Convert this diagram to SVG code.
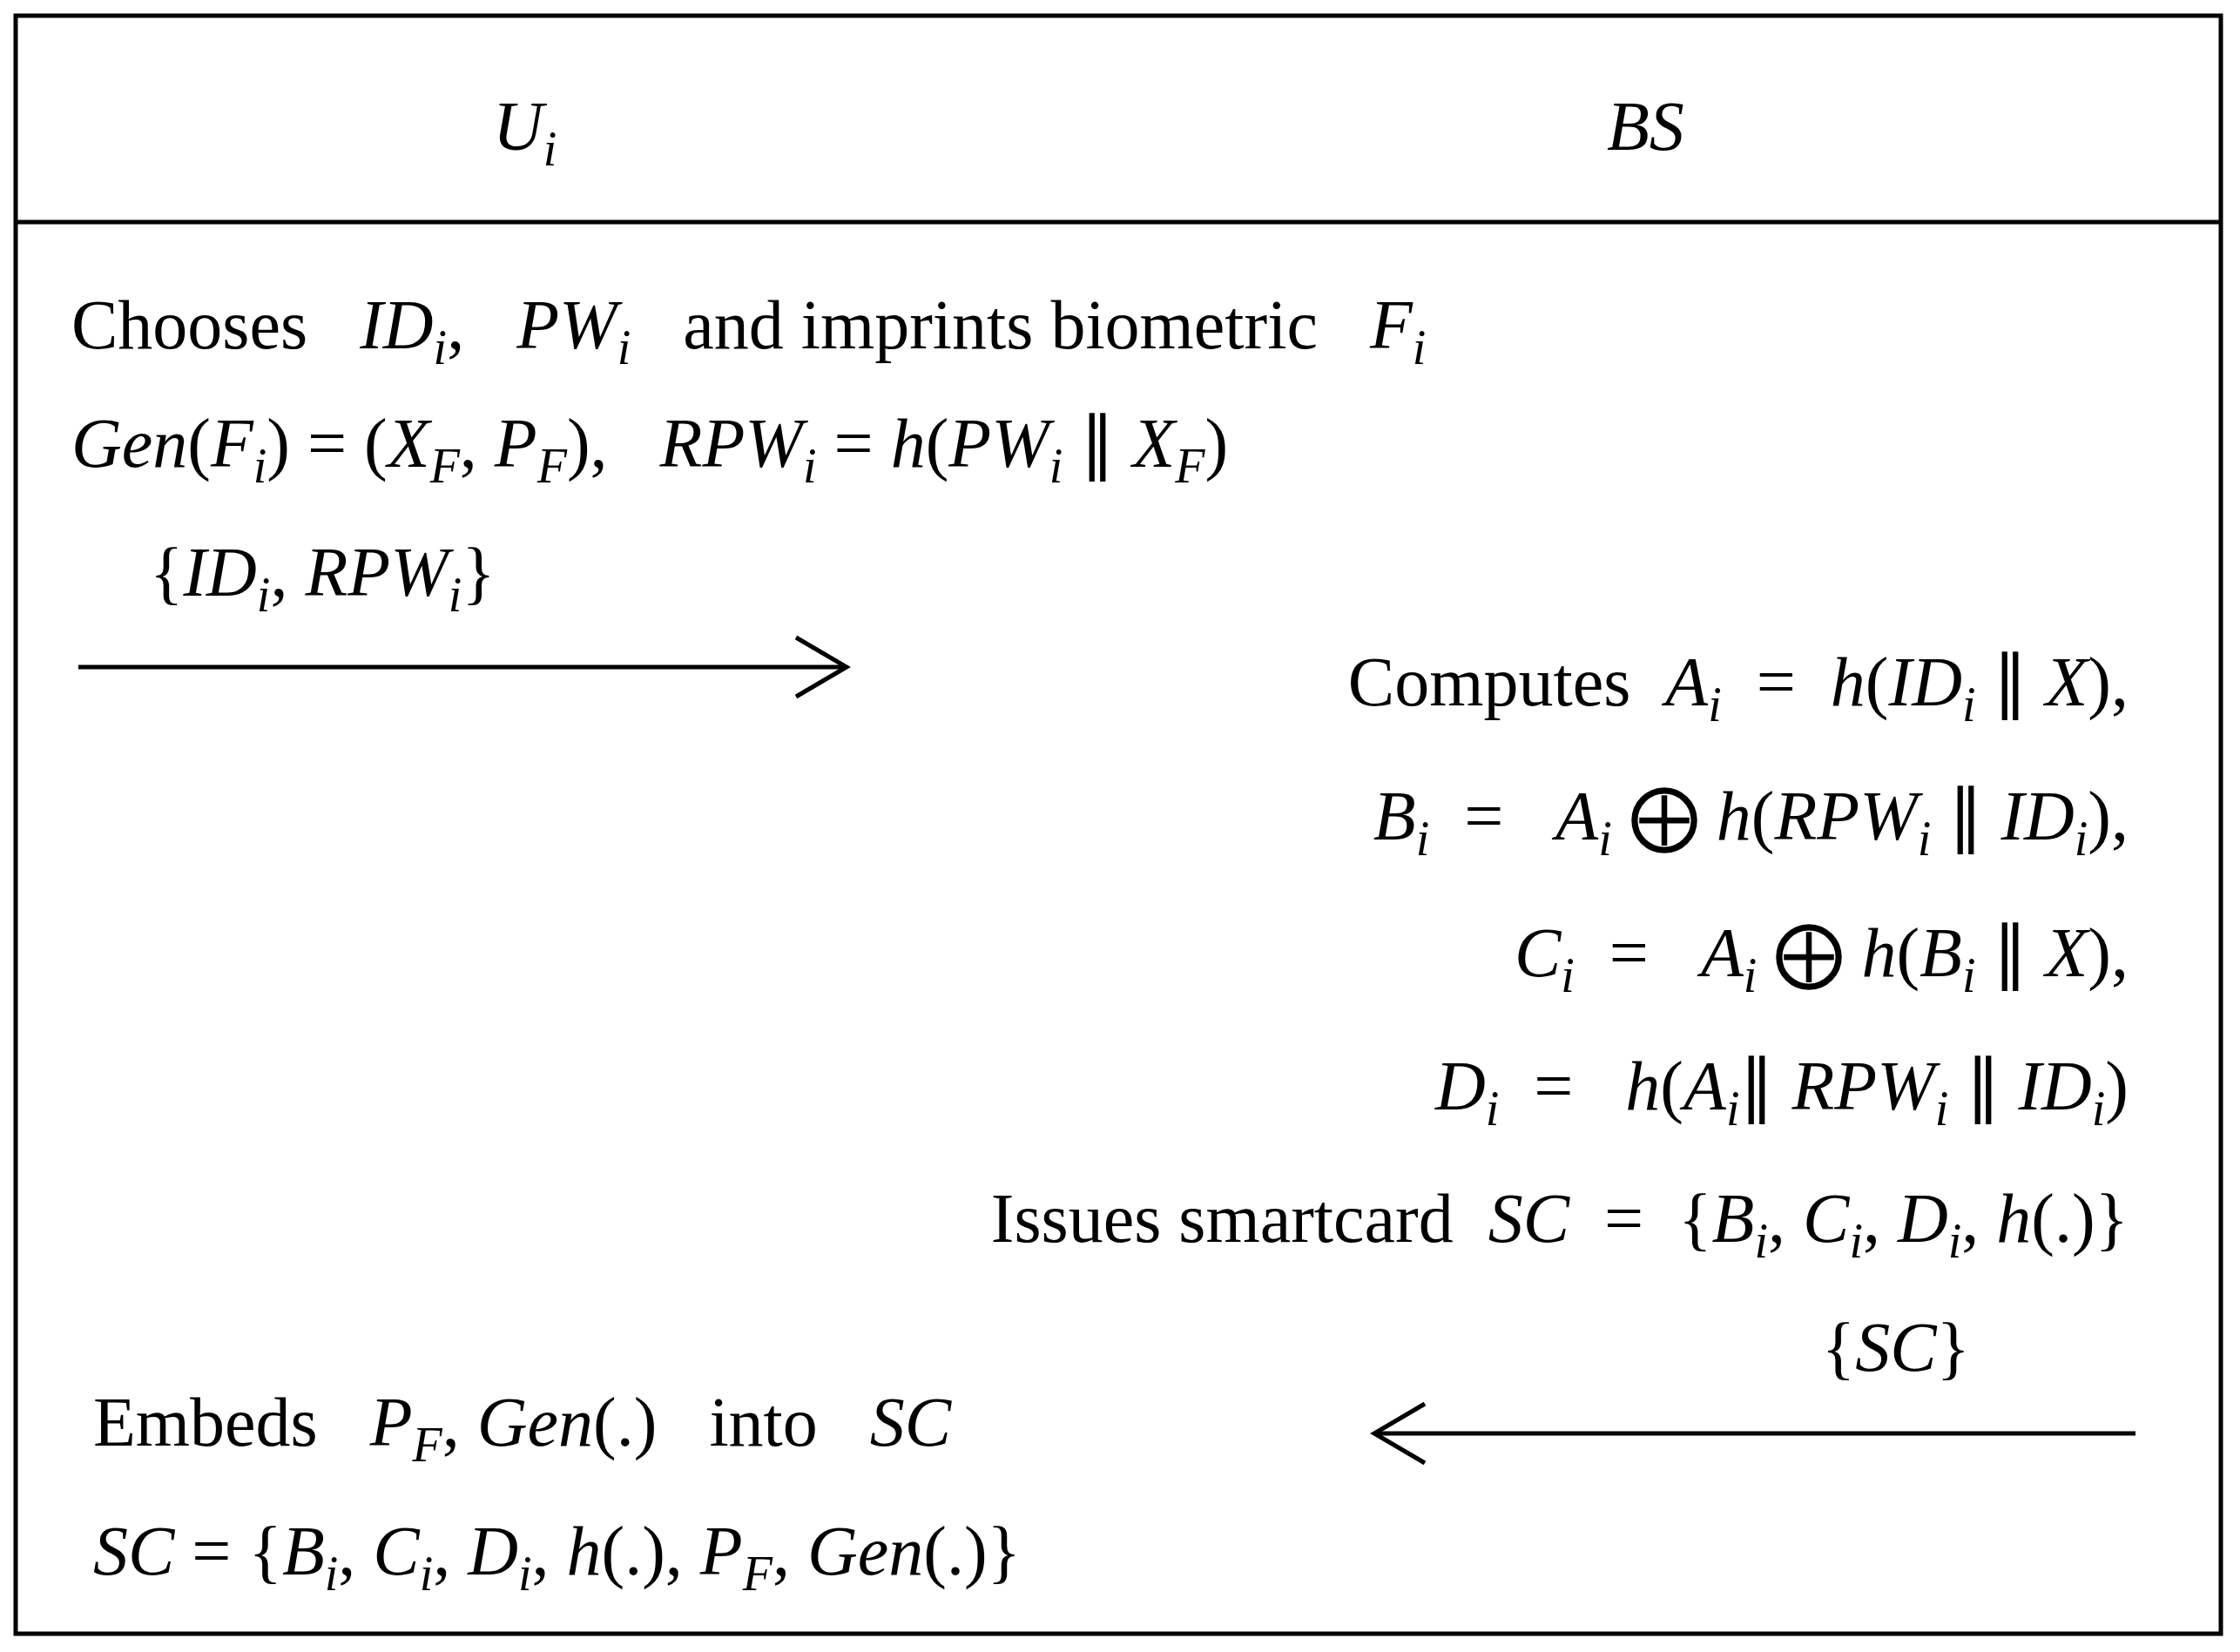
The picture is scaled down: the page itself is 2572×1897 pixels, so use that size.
<svg xmlns="http://www.w3.org/2000/svg" width="2572" height="1897" viewBox="0 0 2572 1897">
<style>
text{font-family:"Liberation Serif",serif;font-size:80px;fill:#000;white-space:pre}
.m{font-style:italic}
.s{font-size:56px;font-style:italic}
.ln{stroke:#000;stroke-width:5;fill:none}
</style>
<defs>
<marker id="ah" markerWidth="70" markerHeight="76" refX="62" refY="38" orient="auto" markerUnits="userSpaceOnUse" viewBox="0 0 70 76">
<path d="M4,4 L62,38 L4,72" fill="none" stroke="#000" stroke-width="5"/>
</marker>
</defs>
<rect width="2572" height="1897" fill="#fff"/>
<g id="frame">
<rect x="18" y="18" width="2532" height="1858" class="ln" stroke-width="6"/>
<line x1="18" y1="255" x2="2550" y2="255" class="ln" stroke-width="6"/>
</g>
<g id="header">
<text x="566" y="172" class="m">U<tspan class="s" dy="18">i</tspan></text>
<text x="1845" y="172" class="m">BS</text>
</g>
<g id="user">
<text x="82" y="400">Chooses   <tspan class="m">ID</tspan><tspan class="s" dy="18">i</tspan><tspan dy="-18">,   </tspan><tspan class="m">PW</tspan><tspan class="s" dy="18">i</tspan><tspan dy="-18">   and imprints biometric   </tspan><tspan class="m">F</tspan><tspan class="s" dy="18">i</tspan></text>
<text x="82" y="536"><tspan class="m">Gen</tspan>(<tspan class="m">F</tspan><tspan class="s" dy="18">i</tspan><tspan dy="-18">) = (</tspan><tspan class="m">X</tspan><tspan class="s" dy="18">F</tspan><tspan dy="-18">, </tspan><tspan class="m">P</tspan><tspan class="s" dy="18">F</tspan><tspan dy="-18">),   </tspan><tspan class="m">RPW</tspan><tspan class="s" dy="18">i</tspan><tspan dy="-18"> = </tspan><tspan class="m">h</tspan>(<tspan class="m">PW</tspan><tspan class="s" dy="18">i</tspan><tspan dy="-18"> ∥ </tspan><tspan class="m">X</tspan><tspan class="s" dy="18">F</tspan><tspan dy="-18">)</tspan></text>
<text x="172" y="684">{<tspan class="m">ID</tspan><tspan class="s" dy="18">i</tspan><tspan dy="-18">, </tspan><tspan class="m">RPW</tspan><tspan class="s" dy="18">i</tspan><tspan dy="-18">}</tspan></text>
<text x="107" y="1660">Embeds   <tspan class="m">P</tspan><tspan class="s" dy="18">F</tspan><tspan dy="-18">, </tspan><tspan class="m">Gen</tspan>(.)   into   <tspan class="m">SC</tspan></text>
<text x="107" y="1808"><tspan class="m">SC</tspan> = {<tspan class="m">B</tspan><tspan class="s" dy="18">i</tspan><tspan dy="-18">, </tspan><tspan class="m">C</tspan><tspan class="s" dy="18">i</tspan><tspan dy="-18">, </tspan><tspan class="m">D</tspan><tspan class="s" dy="18">i</tspan><tspan dy="-18">, </tspan><tspan class="m">h</tspan>(.), <tspan class="m">P</tspan><tspan class="s" dy="18">F</tspan><tspan dy="-18">, </tspan><tspan class="m">Gen</tspan>(.)}</text>
</g>
<g id="bs" text-anchor="end">
<text x="2444" y="810">Computes  <tspan class="m">A</tspan><tspan class="s" dy="18">i</tspan><tspan dy="-18">  =  </tspan><tspan class="m">h</tspan>(<tspan class="m">ID</tspan><tspan class="s" dy="18">i</tspan><tspan dy="-18"> ∥ </tspan><tspan class="m">X</tspan>),</text>
<text x="2444" y="964"><tspan class="m">B</tspan><tspan class="s" dy="18">i</tspan><tspan dy="-18">  =   </tspan><tspan class="m">A</tspan><tspan class="s" dy="18">i</tspan><tspan dy="-18"> ⨁ </tspan><tspan class="m">h</tspan>(<tspan class="m">RPW</tspan><tspan class="s" dy="18">i</tspan><tspan dy="-18"> ∥ </tspan><tspan class="m">ID</tspan><tspan class="s" dy="18">i</tspan><tspan dy="-18">),</tspan></text>
<text x="2444" y="1121"><tspan class="m">C</tspan><tspan class="s" dy="18">i</tspan><tspan dy="-18">  =   </tspan><tspan class="m">A</tspan><tspan class="s" dy="18">i</tspan><tspan dy="-18"> ⨁ </tspan><tspan class="m">h</tspan>(<tspan class="m">B</tspan><tspan class="s" dy="18">i</tspan><tspan dy="-18"> ∥ </tspan><tspan class="m">X</tspan>),</text>
<text x="2444" y="1274"><tspan class="m">D</tspan><tspan class="s" dy="18">i</tspan><tspan dy="-18">  =   </tspan><tspan class="m">h</tspan>(<tspan class="m">A</tspan><tspan class="s" dy="18">i</tspan><tspan dy="-18">∥ </tspan><tspan class="m">RPW</tspan><tspan class="s" dy="18">i</tspan><tspan dy="-18"> ∥ </tspan><tspan class="m">ID</tspan><tspan class="s" dy="18">i</tspan><tspan dy="-18">)</tspan></text>
<text x="2444" y="1426">Issues smartcard  <tspan class="m">SC</tspan>  =  {<tspan class="m">B</tspan><tspan class="s" dy="18">i</tspan><tspan dy="-18">, </tspan><tspan class="m">C</tspan><tspan class="s" dy="18">i</tspan><tspan dy="-18">, </tspan><tspan class="m">D</tspan><tspan class="s" dy="18">i</tspan><tspan dy="-18">, </tspan><tspan class="m">h</tspan>(.)}</text>
<text x="2262" y="1574">{<tspan class="m">SC</tspan>}</text>
</g>
<g id="connectors">
<line x1="90" y1="766" x2="972" y2="766" class="ln" stroke-width="4" marker-end="url(#ah)"/>
<line x1="2452" y1="1646" x2="1578" y2="1646" class="ln" stroke-width="4" marker-end="url(#ah)"/>
</g>
</svg>
